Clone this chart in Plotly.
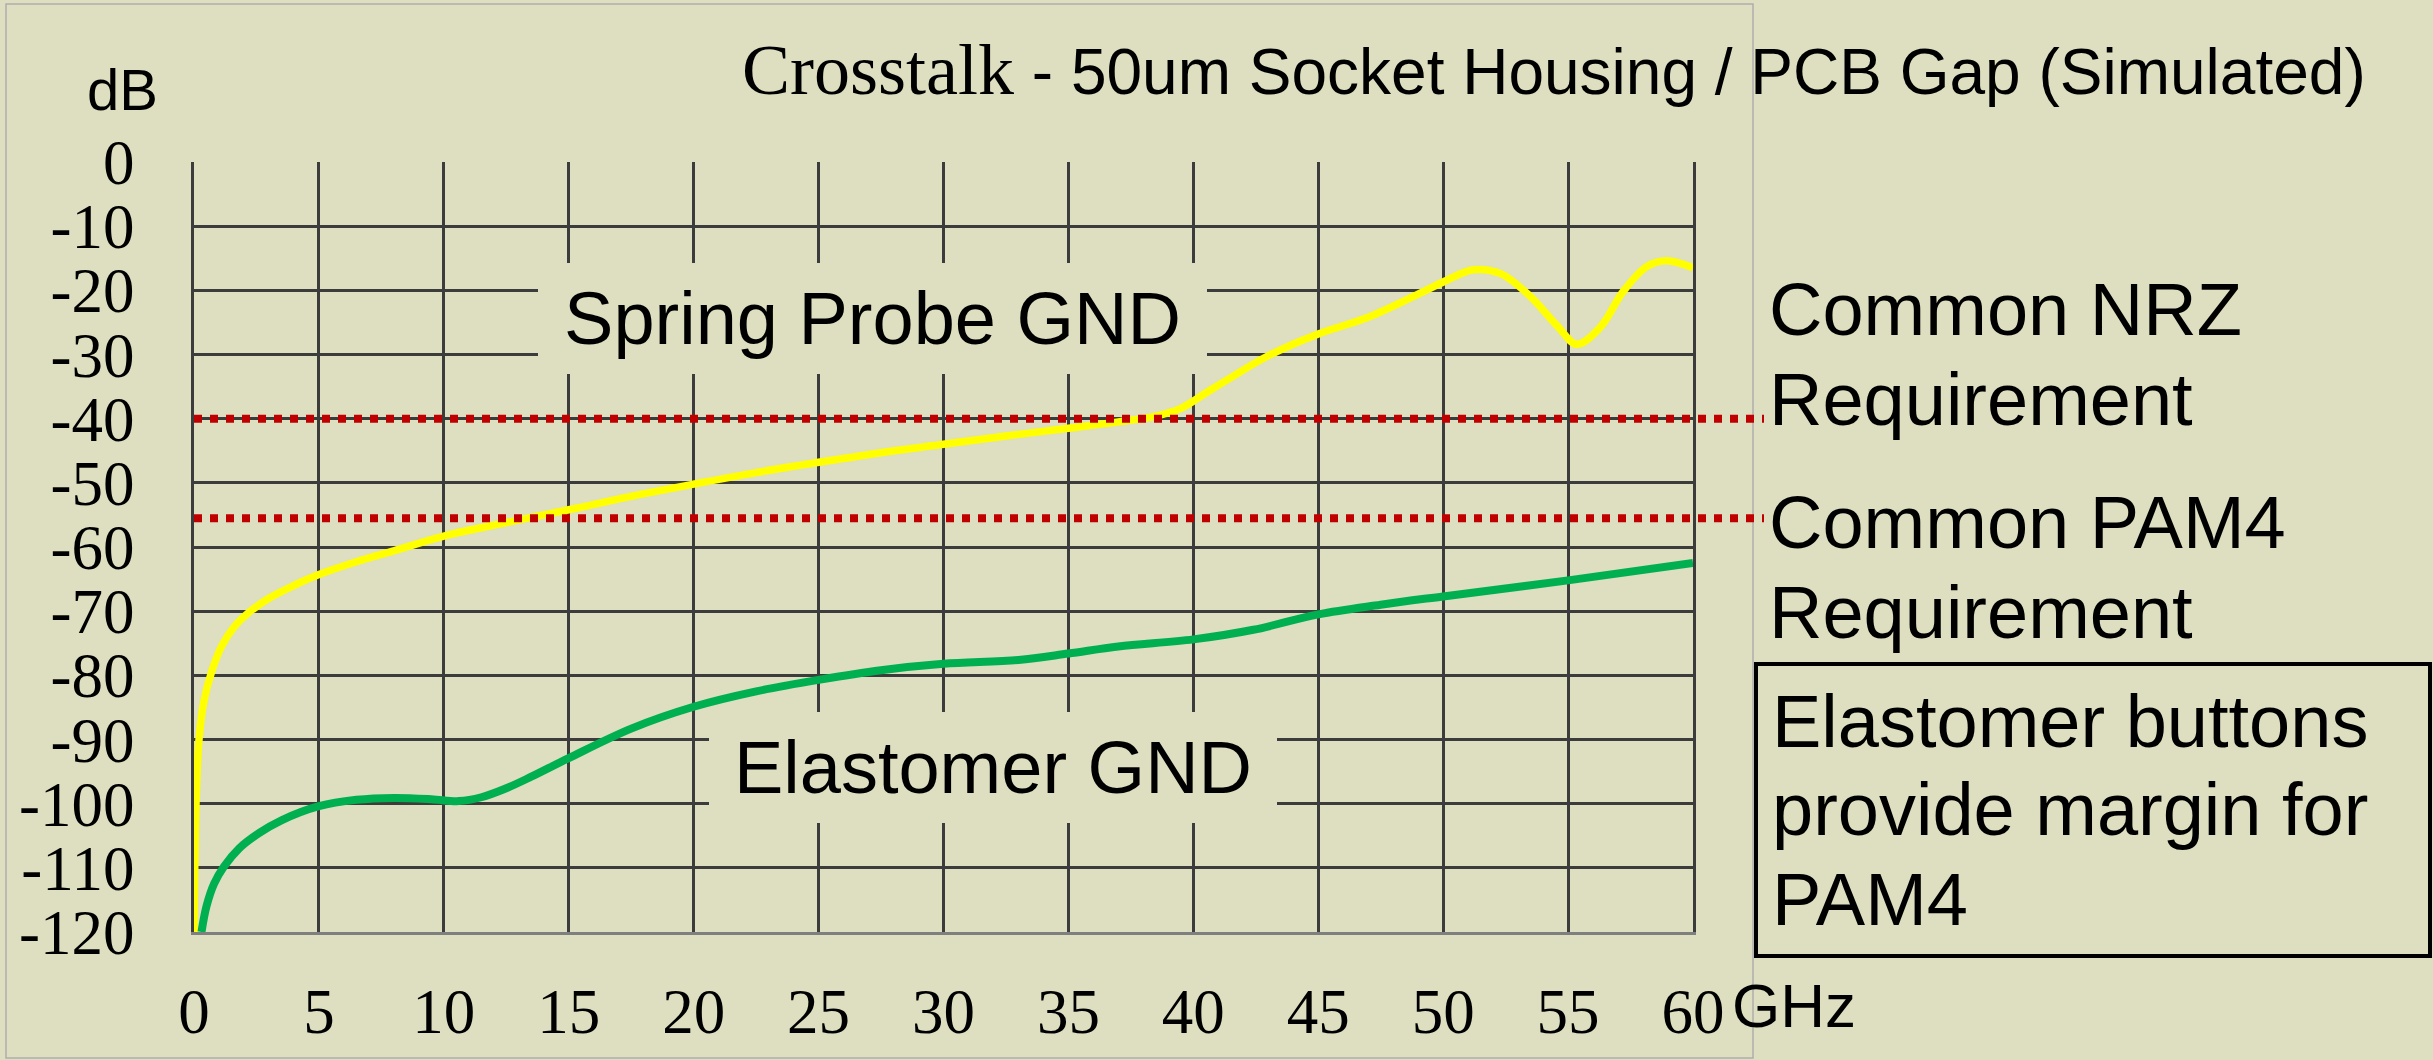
import plotly.graph_objects as go

# ---------------- data ----------------
freq_spring = [0.0, 0.08, 0.2, 0.4, 0.7, 1.1, 1.6, 2.2, 3.0, 4.0, 5.0, 6.5, 8.0, 10.0, 12.5,
               15.0, 17.5, 20.0, 22.5, 25.0, 27.5, 30.0, 32.5, 35.0, 37.0, 38.5, 39.5, 40.5,
               41.5, 43.0, 45.0, 47.0, 49.0, 50.0, 51.2, 52.3, 53.5, 54.6, 55.35, 56.3, 57.2,
               58.15, 58.95, 60.0]
db_spring = [-120, -100, -90, -84, -79.5, -75.5, -72.5, -70.2, -68.0, -66.0, -64.3, -62.3, -60.6,
             -58.3, -56.2, -54.2, -52.1, -50.2, -48.4, -46.8, -45.3, -44.0, -42.7, -41.5, -40.5,
             -39.6, -38.4, -36.0, -33.6, -30.2, -26.8, -24.2, -20.6, -18.7, -16.8, -17.4, -21.0,
             -25.7, -28.4, -25.7, -20.2, -16.3, -15.4, -16.5]

freq_elast = [0.3, 0.5, 0.8, 1.2, 1.8, 2.6, 3.5, 5.0, 6.5, 8.0, 9.5, 10.6, 11.5, 12.5, 13.5,
              15.0, 17.5, 20.0, 22.5, 25.0, 27.5, 30.0, 33.0, 35.0, 37.0, 40.0, 42.4, 45.0,
              47.5, 50.0, 55.0, 60.0]
db_elast = [-120, -116, -112.5, -109.8, -107.0, -104.6, -102.6, -100.4, -99.4, -99.1, -99.3,
            -99.6, -99.0, -97.6, -95.8, -92.9, -88.3, -84.9, -82.5, -80.7, -79.2, -78.2, -77.6,
            -76.6, -75.5, -74.4, -72.9, -70.5, -69.0, -67.7, -65.2, -62.5]

x_ticks = [0, 5, 10, 15, 20, 25, 30, 35, 40, 45, 50, 55, 60]
x_tick_labels = ["0", "5", "10", "15", "20", "25", "30", "35", "40", "45", "50", "55", "60"]
y_ticks = [0, -10, -20, -30, -40, -50, -60, -70, -80, -90, -100, -110, -120]
y_tick_labels = ["0", "-10", "-20", "-30", "-40", "-50", "-60", "-70", "-80", "-90", "-100", "-110", "-120"]

req_levels = [-40, -55.5]
req_line1 = ["Common NRZ", "Common PAM4"]
req_line2 = ["Requirement", "Requirement"]
note_lines = ["Elastomer buttons", "provide margin for", "PAM4"]

# ---------------- layout helpers ----------------
W, H = 2433, 1060
L, R, T, B = 194, 1693, 162, 932
BG = "#DEDEC0"
GRID = "#3C3C3C"
SANS = "Liberation Sans, Arial, sans-serif"
SERIF = "Liberation Serif, Times New Roman, serif"


def px(xpix):
    return (xpix - L) / (R - L)


def py(ypix):
    return (B - ypix) / (B - T)


fig = go.Figure()
fig.add_trace(go.Scatter(x=freq_spring, y=db_spring, mode="lines",
                         line=dict(color="#FFFF00", width=7.5, shape="spline", smoothing=1.0),
                         hoverinfo="skip", showlegend=False))
fig.add_trace(go.Scatter(x=freq_elast, y=db_elast, mode="lines",
                         line=dict(color="#00B050", width=8, shape="spline", smoothing=1.0),
                         hoverinfo="skip", showlegend=False))

shapes = []
# requirement lines
for lvl in req_levels:
    shapes.append(dict(type="line", xref="paper", yref="y", x0=0, x1=px(1764), y0=lvl, y1=lvl,
                       line=dict(color="#C00000", width=8, dash="8px,8px"), layer="above"))
# panel border
shapes.append(dict(type="rect", xref="paper", yref="paper", x0=px(6), x1=px(1753), y0=py(1058), y1=py(4),
                   line=dict(color="#AEAEAE", width=1.5), layer="below"))
# note box
shapes.append(dict(type="rect", xref="paper", yref="paper", x0=px(1756), x1=px(2430), y0=py(956), y1=py(664),
                   line=dict(color="#000000", width=4), layer="above"))

annotations = []
# title
annotations.append(dict(
    text='<span style="font-family:Liberation Serif, Times New Roman, serif; font-size:72px">Crosstalk</span>'
         ' - 50um Socket Housing / PCB Gap (Simulated)',
    xref="paper", yref="paper", x=px(740), y=py(70), xanchor="left", yanchor="middle",
    showarrow=False, font=dict(family=SANS, size=64, color="#000000")))
# axis unit labels
annotations.append(dict(text="dB", xref="paper", yref="paper", x=px(122), y=py(90),
                        xanchor="center", yanchor="middle", showarrow=False,
                        font=dict(family=SANS, size=58, color="#000000")))
annotations.append(dict(text="GHz", xref="paper", yref="paper", x=px(1730), y=py(1006),
                        xanchor="left", yanchor="middle", showarrow=False,
                        font=dict(family=SANS, size=62, color="#000000")))
# series labels
annotations.append(dict(text="Spring Probe GND", xref="paper", yref="paper", x=px(872.5), y=py(318.5),
                        xanchor="center", yanchor="middle", showarrow=False, width=669, height=111,
                        bgcolor=BG, borderpad=0, borderwidth=0,
                        font=dict(family=SANS, size=74, color="#000000")))
annotations.append(dict(text="Elastomer GND", xref="paper", yref="paper", x=px(993), y=py(767.5),
                        xanchor="center", yanchor="middle", showarrow=False, width=568, height=111,
                        bgcolor=BG, borderpad=0, borderwidth=0,
                        font=dict(family=SANS, size=74, color="#000000")))
# requirement labels
req_baselines = [(335, 425), (548, 638)]
for (b1, b2), t1, t2 in zip(req_baselines, req_line1, req_line2):
    for bl, txt in ((b1, t1), (b2, t2)):
        annotations.append(dict(text=txt, xref="paper", yref="paper", x=px(1767), y=py(bl - 25.6),
                                xanchor="left", yanchor="middle", showarrow=False,
                                font=dict(family=SANS, size=74, color="#000000")))
# note box lines
for bl, txt in zip([746.7, 835, 925], note_lines):
    annotations.append(dict(text=txt, xref="paper", yref="paper", x=px(1770), y=py(bl - 25.6),
                            xanchor="left", yanchor="middle", showarrow=False,
                            font=dict(family=SANS, size=74, color="#000000")))

fig.update_layout(
    width=W, height=H,
    margin=dict(l=L, r=W - R, t=T, b=H - B, pad=0, autoexpand=False),
    paper_bgcolor=BG, plot_bgcolor=BG,
    shapes=shapes, annotations=annotations,
    showlegend=False,
    xaxis=dict(range=[0, 60], tickmode="array", tickvals=x_ticks, ticktext=x_tick_labels,
               showgrid=True, gridcolor=GRID, gridwidth=2.8, zeroline=False, automargin=False,
               showline=True, linecolor="#7F7F7F", linewidth=3, mirror=False,
               ticks="outside", ticklen=22, tickcolor="rgba(0,0,0,0)",
               tickfont=dict(family=SERIF, size=63, color="#000000"), fixedrange=True),
    yaxis=dict(range=[-120, 0], tickmode="array", tickvals=y_ticks, ticktext=y_tick_labels,
               showgrid=True, gridcolor=GRID, gridwidth=2.8, zeroline=False, automargin=False,
               showline=True, linecolor=GRID, linewidth=2.8, mirror=True,
               ticks="outside", ticklen=44, tickcolor="rgba(0,0,0,0)",
               tickfont=dict(family=SERIF, size=63, color="#000000"), fixedrange=True),
)

fig.write_html(
    "out.html",
    config={"displayModeBar": False},
    post_script="document.body.style.margin='0px';document.body.style.padding='0px';"
                "document.documentElement.style.overflow='hidden';document.body.style.overflow='hidden';",
)
